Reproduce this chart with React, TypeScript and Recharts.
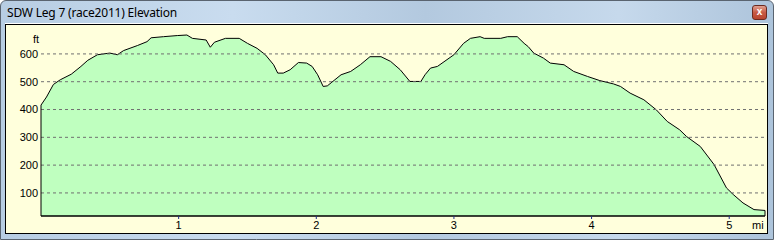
import React from "react";
import { AreaChart, Area, XAxis, YAxis, ReferenceLine } from "recharts";

// distance along the leg (miles) and elevation (feet)
const MILES = [
  0, 0.04, 0.09, 0.14, 0.22, 0.29, 0.34, 0.41, 0.5, 0.555, 0.6, 0.7, 0.77, 0.8,
  0.89, 0.99, 1.06, 1.1, 1.2, 1.23, 1.26, 1.34, 1.44, 1.5, 1.57, 1.63, 1.69,
  1.72, 1.76, 1.81, 1.87, 1.93, 1.97, 2.01, 2.05, 2.08, 2.18, 2.25, 2.32, 2.39,
  2.47, 2.54, 2.61, 2.68, 2.76, 2.79, 2.83, 2.88, 3.0, 3.07, 3.12, 3.19, 3.22,
  3.34, 3.39, 3.46, 3.51, 3.54, 3.58, 3.65, 3.7, 3.8, 3.87, 3.97, 4.06, 4.16,
  4.21, 4.28, 4.38, 4.47, 4.55, 4.64, 4.69, 4.79, 4.89, 4.98, 5.03, 5.1, 5.18,
  5.26,
];
const ELEVATION_FT = [
  416, 445, 490, 507, 527, 555, 577, 597, 603, 597, 612, 630, 644, 658, 662,
  666, 668, 656, 650, 624, 642, 656, 656, 638, 620, 597, 561, 531, 531, 543,
  569, 567, 555, 525, 483, 485, 525, 537, 561, 590, 590, 573, 543, 501, 501,
  525, 549, 555, 597, 638, 656, 662, 656, 656, 662, 662, 638, 626, 603, 585,
  567, 561, 537, 519, 504, 492, 483, 459, 435, 399, 357, 327, 303, 267, 202,
  118, 94, 64, 40, 37,
];
const X_TICKS = [1, 2, 3, 4, 5];
const Y_TICKS = [100, 200, 300, 400, 500, 600];

const Y_MIN = 17;
const Y_MAX = 704;
const X_MAX = 5.26;

const FONT = '"Liberation Sans", Arial, sans-serif';

const data = MILES.map((mi, i) => ({ mi, ft: ELEVATION_FT[i] }));

export default function App() {
  const first = data[0];
  const last = data[data.length - 1];

  return (
    <div
      style={{
        position: "absolute",
        left: 0,
        top: 0,
        width: 774,
        height: 240,
        overflow: "hidden",
        boxSizing: "border-box",
        border: "1px solid #5a6470",
        borderRadius: "6px 6px 0 0",
        background:
          "linear-gradient(90deg, #b7cde3 0%, #c9dcef 30%, #b3c9df 55%, #c6d9ec 80%, #adc4db 100%)",
        fontFamily: FONT,
      }}
    >
      {/* title bar */}
      <div
        style={{
          position: "absolute",
          left: 6,
          top: 3,
          fontSize: 12,
          fontFamily: '"Noto Sans", sans-serif',
          color: "#000",
          whiteSpace: "nowrap",
          letterSpacing: -0.2,
        }}
      >
        SDW Leg 7 (race2011) Elevation
      </div>
      <div
        style={{
          position: "absolute",
          left: 751,
          top: 4,
          width: 15,
          height: 15,
          boxSizing: "border-box",
          border: "1px solid #6b2a20",
          borderRadius: 3,
          background: "linear-gradient(#e0a090, #c75a45 50%, #b8442e)",
          color: "#fff",
          fontSize: 10,
          fontWeight: "bold",
          lineHeight: "12px",
          textAlign: "center",
        }}
      >
        x
      </div>

      {/* client panel */}
      <div
        style={{
          position: "absolute",
          left: 4,
          top: 23,
          width: 763,
          height: 210,
          boxSizing: "border-box",
          border: "1px solid #000",
          boxShadow: "0 -1px 0 #fff",
          background: "#ffffdc",
        }}
      />

      <div style={{ position: "absolute", left: -1, top: -1 }}>
        <AreaChart
          width={774}
          height={240}
          data={data}
          margin={{ top: 25, right: 9, bottom: 0, left: 0 }}
        >
          <XAxis
            dataKey="mi"
            type="number"
            domain={[0, X_MAX]}
            ticks={X_TICKS}
            height={24}
            axisLine={{ stroke: "#000", strokeWidth: 1.5 }}
            tickLine={{ stroke: "#1f2f8a" }}
            tickSize={3}
            tickMargin={2}
            tick={{ fill: "#000", fontSize: 11, fontFamily: FONT }}
          />
          <YAxis
            type="number"
            domain={[Y_MIN, Y_MAX]}
            ticks={Y_TICKS}
            width={41}
            axisLine={false}
            tickLine={false}
            tickSize={0}
            tickMargin={3}
            tick={{ fill: "#000", fontSize: 11, fontFamily: FONT }}
          />
          <Area
            type="linear"
            dataKey="ft"
            stroke="#000"
            strokeWidth={1}
            fill="#bfffbf"
            fillOpacity={1}
            baseValue={Y_MIN}
            isAnimationActive={false}
          />
          {Y_TICKS.map((t) => (
            <ReferenceLine
              key={t}
              y={t}
              stroke="#707070"
              strokeDasharray="3 3"
            />
          ))}
          <ReferenceLine
            segment={[
              { x: first.mi, y: Y_MIN },
              { x: first.mi, y: first.ft },
            ]}
            stroke="#000"
          />
          <ReferenceLine
            segment={[
              { x: last.mi, y: Y_MIN },
              { x: last.mi, y: last.ft },
            ]}
            stroke="#000"
          />
        </AreaChart>
      </div>

      {/* unit labels */}
      <div
        style={{
          position: "absolute",
          left: 32,
          top: 32,
          fontSize: 11,
          color: "#000",
        }}
      >
        ft
      </div>
      <div
        style={{
          position: "absolute",
          left: 751,
          top: 218,
          fontSize: 11,
          color: "#000",
        }}
      >
        mi
      </div>
    </div>
  );
}
